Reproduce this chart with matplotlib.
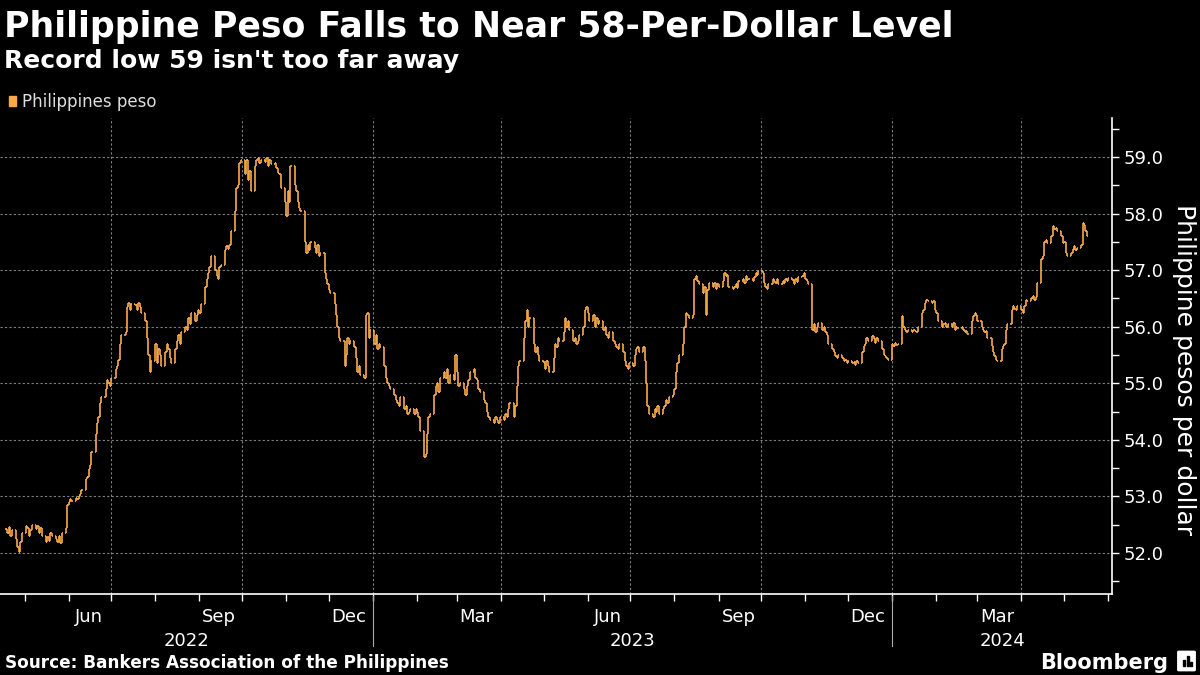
import matplotlib.pyplot as plt
import matplotlib.dates as mdates
import matplotlib.patches as patches
import pandas as pd
from matplotlib.transforms import blended_transform_factory

# Daily closing rate, pesos per dollar, one row per trading week (Mon-Fri)
closes = [
    52.42, 52.35, 52.46, 52.30, 52.40,
    52.25, 52.10, 52.02, 52.20, 52.35,
    52.48, 52.45, 52.30, 52.40, 52.50,
    52.42, 52.48, 52.35, 52.45, 52.30,
    52.20, 52.28, 52.22, 52.35, 52.30,
    52.25, 52.20, 52.30, 52.18, 52.35,
    52.45, 52.85, 52.90, 52.95, 52.92,
    52.98, 52.95, 53.00, 53.05, 53.12,
    53.30, 53.35, 53.48, 53.55, 53.78,
    54.10, 54.30, 54.40, 54.65, 54.75,
    54.90, 55.05, 55.00, 54.95, 55.10,
    55.25, 55.30, 55.42, 55.70, 55.85,
    55.90, 56.35, 56.42, 56.30, 56.40,
    56.38, 56.30, 56.42, 56.35, 56.25,
    56.10, 55.80, 55.50, 55.20, 55.40,
    55.70, 55.35, 55.60, 55.50, 55.30,
    55.55, 55.70, 55.60, 55.45, 55.35,
    55.60, 55.75, 55.85, 55.70, 55.90,
    56.00, 55.95, 56.15, 56.05, 56.25,
    56.10, 56.20, 56.30, 56.25, 56.40,
    56.70, 56.85, 56.95, 57.05, 57.25,
    57.00, 56.90, 56.85, 57.05, 57.10,
    57.35, 57.42, 57.38, 57.45, 57.70,
    58.05, 58.45, 58.50, 58.90, 58.95,
    58.70, 58.95, 58.60, 58.75, 58.40,
    58.85, 58.95, 58.98, 58.90, 58.95,
    58.92, 58.98, 58.85, 58.95, 58.88,
    58.90, 58.80, 58.72, 58.70, 58.45,
    58.20, 57.95, 58.40, 58.20, 58.85,
    58.50, 58.40, 58.20, 58.10, 58.05,
    57.50, 57.30, 57.45, 57.35, 57.50,
    57.40, 57.30, 57.45, 57.25, 57.30,
    56.95, 56.85, 56.75, 56.65, 56.60,
    56.40, 56.20, 56.00, 55.80, 55.75,
    55.30, 55.50, 55.80, 55.70, 55.75,
    55.65, 55.45, 55.20, 55.30, 55.15,
    55.10, 56.20, 56.25, 55.80, 55.95,
    55.70, 55.85, 55.60, 55.70, 55.65,
    55.30, 55.10, 55.00, 54.95, 54.90,
    54.80, 54.70, 54.65, 54.60, 54.75,
    54.55, 54.60, 54.45, 54.50, 54.55,
    54.45, 54.55, 54.50, 54.40, 54.15,
    53.70, 53.75, 54.10, 54.40, 54.45,
    54.80, 54.95, 55.00, 54.85, 55.10,
    55.20, 55.10, 55.25, 55.00, 55.15,
    55.05, 55.50, 55.20, 54.95, 55.00,
    54.90, 54.80, 54.95, 55.05, 55.20,
    55.25, 55.10, 55.05, 54.90, 54.85,
    54.70, 54.65, 54.50, 54.40, 54.35,
    54.30, 54.40, 54.35, 54.30, 54.40,
    54.35, 54.45, 54.40, 54.55, 54.65,
    54.40, 54.60, 54.95, 55.30, 55.40,
    55.80, 56.10, 56.30, 56.00, 56.15,
    55.70, 55.55, 55.65, 55.50, 55.40,
    55.35, 55.25, 55.40, 55.30, 55.20,
    55.45, 55.70, 55.65, 55.80, 55.75,
    55.90, 56.15, 56.00, 56.10, 55.95,
    55.75, 55.80, 55.70, 55.75, 55.85,
    56.00, 56.30, 56.35, 56.25, 56.10,
    56.20, 56.00, 56.15, 56.05, 56.10,
    55.95, 56.00, 55.85, 55.80, 55.90,
    55.75, 55.70, 55.65, 55.60, 55.70,
    55.55, 55.40, 55.30, 55.25, 55.35,
    55.30, 55.50, 55.60, 55.65, 55.55,
    55.65, 55.40, 55.00, 54.60, 54.45,
    54.40, 54.55, 54.50, 54.60, 54.45,
    54.55, 54.60, 54.70, 54.65, 54.75,
    54.80, 54.90, 55.20, 55.35, 55.50,
    55.70, 56.00, 56.25, 56.20, 56.15,
    56.20, 56.85, 56.90, 56.80, 56.75,
    56.60, 56.70, 56.20, 56.65, 56.78,
    56.70, 56.78, 56.66, 56.75, 56.70,
    56.80, 56.95, 56.90, 56.92, 56.70,
    56.66, 56.70, 56.75, 56.68, 56.80,
    56.85, 56.78, 56.90, 56.82, 56.85,
    56.80, 56.88, 56.95, 56.92, 56.98,
    56.95, 56.78, 56.70, 56.66, 56.75,
    56.85, 56.80, 56.78, 56.84, 56.75,
    56.80, 56.78, 56.84, 56.80, 56.86,
    56.82, 56.76, 56.85, 56.79, 56.88,
    56.90, 56.95, 56.85, 56.80, 56.75,
    55.95, 56.05, 55.90, 56.00, 56.07,
    55.95, 56.00, 55.90, 55.85, 55.70,
    55.60, 55.55, 55.48, 55.45, 55.50,
    55.45, 55.40, 55.42, 55.35, 55.40,
    55.35, 55.38, 55.33, 55.40, 55.35,
    55.55, 55.66, 55.70, 55.80, 55.75,
    55.84, 55.78, 55.72, 55.80, 55.75,
    55.60, 55.50, 55.48, 55.45, 55.42,
    55.70, 55.66, 55.72, 55.68, 55.70,
    56.19, 56.00, 55.95, 55.90, 55.95,
    55.90, 55.95, 55.92, 55.90, 56.00,
    56.25, 56.30, 56.42, 56.48, 56.45,
    56.42, 56.45, 56.30, 56.25, 56.10,
    56.00, 56.05, 56.07, 56.00, 56.05,
    56.00, 56.07, 55.95, 56.00, 55.98,
    56.00, 55.95, 55.90, 55.92, 55.88,
    56.10, 56.19, 56.25, 56.20, 56.10,
    56.00, 55.95, 55.90, 55.92, 55.80,
    55.66, 55.55, 55.48, 55.42, 55.40,
    55.60, 55.66, 55.70, 55.95, 56.05,
    56.30, 56.36, 56.32, 56.30, 56.36,
    56.30, 56.25, 56.36, 56.48, 56.45,
    56.50, 56.54, 56.48, 56.52, 56.78,
    57.19, 57.25, 57.50, 57.54, 57.48,
    57.60, 57.78, 57.72, 57.75, 57.70,
    57.60, 57.48, 57.50, 57.30, 57.25,
    57.30, 57.38, 57.42, 57.36, 57.40,
    57.45, 57.84, 57.80, 57.70, 57.60,
]
first_day = "2022-04-18"
y_ticks = [52, 53, 54, 55, 56, 57, 58, 59]
month_labels = ["Jun", "Sep", "Dec", "Mar", "Jun", "Sep", "Dec", "Mar"]
month_label_dates = ["2022-06-15", "2022-09-15", "2022-12-15", "2023-03-15",
                     "2023-06-15", "2023-09-15", "2023-12-15", "2024-03-15"]
years = ["2022", "2023", "2024"]
year_starts = ["2023-01-01", "2024-01-01"]

orange = "#f7a94b"
grid_col = "#808080"

dates = pd.bdate_range(first_day, periods=len(closes))
opens = [closes[0]] + closes[:-1]

fig = plt.figure(figsize=(12, 6.75), dpi=100, facecolor="black")
ax = fig.add_axes([0, 1 - 594 / 675, 1112 / 1200, (594 - 118) / 675])
ax.set_facecolor("black")

# OHLC style bars: vertical range, open tick left, close tick right
x = mdates.date2num(dates)
lo = [min(o, c) for o, c in zip(opens, closes)]
hi = [max(o, c) for o, c in zip(opens, closes)]
ax.vlines(x, lo, hi, color=orange, lw=1.2)
ax.hlines(opens, x - 0.8, x, color=orange, lw=1.2)
ax.hlines(closes, x, x + 0.8, color=orange, lw=1.2)

x_left = pd.Timestamp("2022-04-13 18:00")
x_right = pd.Timestamp("2024-06-03 16:00")
ax.set_xlim(x_left, x_right)
ax.set_ylim(51.275, 59.69)

# y axis on the right
ax.yaxis.tick_right()
ax.set_yticks(y_ticks)
ax.set_yticklabels([f"{v:.1f}" for v in y_ticks])
ax.set_yticks([v + 0.5 for v in [51] + y_ticks], minor=True)
ax.tick_params(axis="y", which="both", colors="white", length=5, width=1,
               labelsize=13, pad=3, direction="out")

# x axis: month ticks, quarter gridlines
ax.xaxis.set_major_locator(mdates.MonthLocator(bymonth=[1, 4, 7, 10]))
ax.xaxis.set_minor_locator(mdates.MonthLocator())
ax.xaxis.set_major_formatter(plt.NullFormatter())
ax.tick_params(axis="x", which="both", colors="white", length=5, width=1,
               direction="out")

ax.grid(True, which="major", color=grid_col, linestyle=(0, (2, 2)), lw=0.8)

for side in ["left", "top"]:
    ax.spines[side].set_visible(False)
for side in ["right", "bottom"]:
    ax.spines[side].set_color("white")
    ax.spines[side].set_linewidth(1.2)

trans = blended_transform_factory(ax.transData, ax.transAxes)
for lab, d in zip(month_labels, month_label_dates):
    ax.text(pd.Timestamp(d), -0.03, lab, transform=trans, color="white",
            fontsize=13, ha="center", va="top")

bounds = [x_left] + [pd.Timestamp(d) for d in year_starts] + [x_right]
for i, yr in enumerate(years):
    mid = bounds[i] + (bounds[i + 1] - bounds[i]) / 2
    ax.text(mid, -0.08, yr, transform=trans, color="white",
            fontsize=13, ha="center", va="top")
for d in year_starts:
    ax.plot([pd.Timestamp(d)] * 2, [-0.005, -0.11], transform=trans,
            color="#aaaaaa", lw=0.8, clip_on=False)

fig.text(1184 / 1200, 1 - 370 / 675, "Philippine pesos per dollar", color="white",
         fontsize=18, rotation=270, ha="center", va="center")

# Titles
fig.text(4 / 1200, 1 - 37 / 675, "Philippine Peso Falls to Near 58-Per-Dollar Level",
         color="white", fontsize=25, fontweight="bold", ha="left", va="baseline")
fig.text(4 / 1200, 1 - 68 / 675, "Record low 59 isn't too far away",
         color="white", fontsize=18, fontweight="bold", ha="left", va="baseline")

# Legend
fig.patches.append(patches.Rectangle((9 / 1200, 1 - 106 / 675), 7 / 1200, 10 / 675,
                                     transform=fig.transFigure, color=orange))
fig.text(22 / 1200, 1 - 107 / 675, "Philippines peso", color="#dddddd",
         fontsize=12, ha="left", va="baseline")

# Footer
fig.text(5 / 1200, 1 - 668 / 675, "Source: Bankers Association of the Philippines",
         color="white", fontsize=12.2, fontweight="bold", ha="left", va="baseline")
fig.text(1168 / 1200, 1 - 669 / 675, "Bloomberg", color="white", fontsize=15,
         fontweight="bold", ha="right", va="baseline")
fig.patches.append(patches.FancyBboxPatch((1179 / 1200, 1 - 670 / 675), 15 / 1200,
                                          18 / 675, boxstyle="round,pad=0.001",
                                          transform=fig.transFigure, color="white"))
for bx, bh in [(1183, 6), (1186.5, 10), (1190, 4)]:
    fig.patches.append(patches.Rectangle((bx / 1200, 1 - 666 / 675), 2 / 1200, bh / 675,
                                         transform=fig.transFigure, color="black"))

fig.savefig("out.png", dpi=100, facecolor="black")
